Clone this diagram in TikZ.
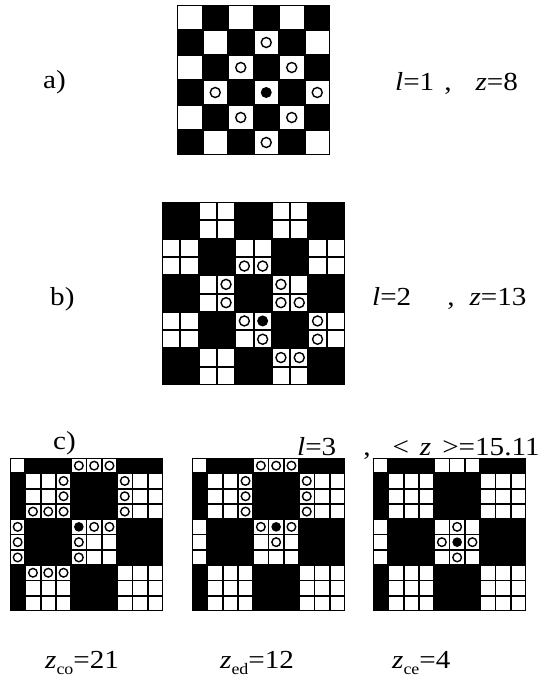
\documentclass[tikz,border=0pt]{standalone}
\usepackage{fontspec}
\setmainfont{Liberation Serif}[FakeStretch=1.12]
\tikzset{
  lbl/.style={font=\fontsize{26}{30}\selectfont, inner sep=0pt, anchor=base west},
  site/.style={fill=white},
  vac/.style={draw=black, line width=1.4pt, fill=white},
  ion/.style={fill=black}
}
\newcommand{\sub}[1]{\raisebox{-6pt}{\fontsize{16}{16}\selectfont #1}}

\begin{document}
\begin{tikzpicture}[x=1pt, y=-1pt]
    \useasboundingbox (0,0) rectangle (555,681);

    % Panel a: plain checkerboard
    \fill[black] (177,5) rectangle (330,155);
    \foreach \r in {0,...,5}
        \foreach \c in {0,...,5} {
            \pgfmathtruncatemacro\odd{mod(\r+\c,2)}
            \ifnum\odd=0
                \fill[site] (177+25.5*\c+1, 5+25*\r+1) rectangle ++(23.5,23);
            \fi
        }
    \foreach \r/\c in {1/3,2/2,2/4,3/1,3/5,4/2,4/4,5/3}
        \draw[vac] (189.75+25.5*\c, 17.5+25*\r) circle (5pt);
    \fill[ion] (189.75+25.5*3, 17.5+25*3) circle (5.5pt);

    % Panel b: blocks of 2x2
    \fill[black] (162,202) rectangle (345,385);
    \foreach \i in {0,...,9}
        \foreach \j in {0,...,9} {
            \pgfmathtruncatemacro\odd{mod(floor(\i/2)+floor(\j/2),2)}
            \ifnum\odd=1
                \fill[site] (162+18.3*\j+1, 202+18.3*\i+1) rectangle ++(16.3,16.3);
            \fi
        }
    \foreach \i/\j in {3/4,3/5,4/3,5/3,4/6,5/6,5/7,6/4,7/5,6/8,7/8,8/6,8/7}
        \draw[vac] (171.15+18.3*\j, 211.15+18.3*\i) circle (5pt);
    \fill[ion] (171.15+18.3*5, 211.15+18.3*6) circle (5.5pt);

    % Panel c: blocks of 3x3, three cases
    \foreach \bx in {10,192,373} {
        \fill[black] (\bx,458) rectangle ++(153,153);
        \foreach \i in {0,...,9}
            \foreach \j in {0,...,9} {
                \pgfmathtruncatemacro\odd{mod(floor((\i+2)/3)+floor((\j+2)/3),2)}
                \ifnum\odd=0
                    \fill[site] (\bx+15.3*\j+0.9, 458+15.3*\i+0.9) rectangle ++(13.5,13.5);
                \fi
            }
    }
    % corner case
    \foreach \i/\j in {0/4,0/5,0/6,1/3,2/3,3/3,3/1,3/2,1/7,2/7,3/7,4/0,5/0,6/0,4/5,4/6,5/4,6/4,7/1,7/2,7/3}
        \draw[vac] (17.65+15.3*\j, 465.65+15.3*\i) circle (4.3pt);
    \fill[ion] (17.65+15.3*4, 465.65+15.3*4) circle (4.8pt);
    % edge case
    \foreach \i/\j in {0/4,0/5,0/6,1/3,2/3,3/3,1/7,2/7,3/7,4/4,4/6,5/5}
        \draw[vac] (199.65+15.3*\j, 465.65+15.3*\i) circle (4.3pt);
    \fill[ion] (199.65+15.3*5, 465.65+15.3*4) circle (4.8pt);
    % centre case
    \foreach \i/\j in {4/5,5/4,5/6,6/5}
        \draw[vac] (380.65+15.3*\j, 465.65+15.3*\i) circle (4.3pt);
    \fill[ion] (380.65+15.3*5, 465.65+15.3*5) circle (4.8pt);

    % Labels
    \node[lbl] (la) at (43,88) {a)};
    \node[lbl] (ta) at (395,90) {\textit{l}=1\hspace{10pt},\hspace{24pt}\textit{z}=8};
    \node[lbl] (lb) at (50,305) {b)};
    \node[lbl] (tb) at (372,305) {\textit{l}=2\hspace{36pt},\hspace{15pt}\textit{z}=13};
    \node[lbl] (lc) at (53,449) {c)};
    \node[lbl] (tc) at (297,455) {\textit{l}=3\hspace{27pt},\hspace{22pt}<\hspace{11pt}\textit{z}\hspace{11pt}>=15.11};
    \node[lbl] (zco) at (45,668) {\textit{z}\sub{co}=21};
    \node[lbl] (zed) at (220,668) {\textit{z}\sub{ed}=12};
    \node[lbl] (zce) at (392,668) {\textit{z}\sub{ce}=4};
\end{tikzpicture}
\end{document}
